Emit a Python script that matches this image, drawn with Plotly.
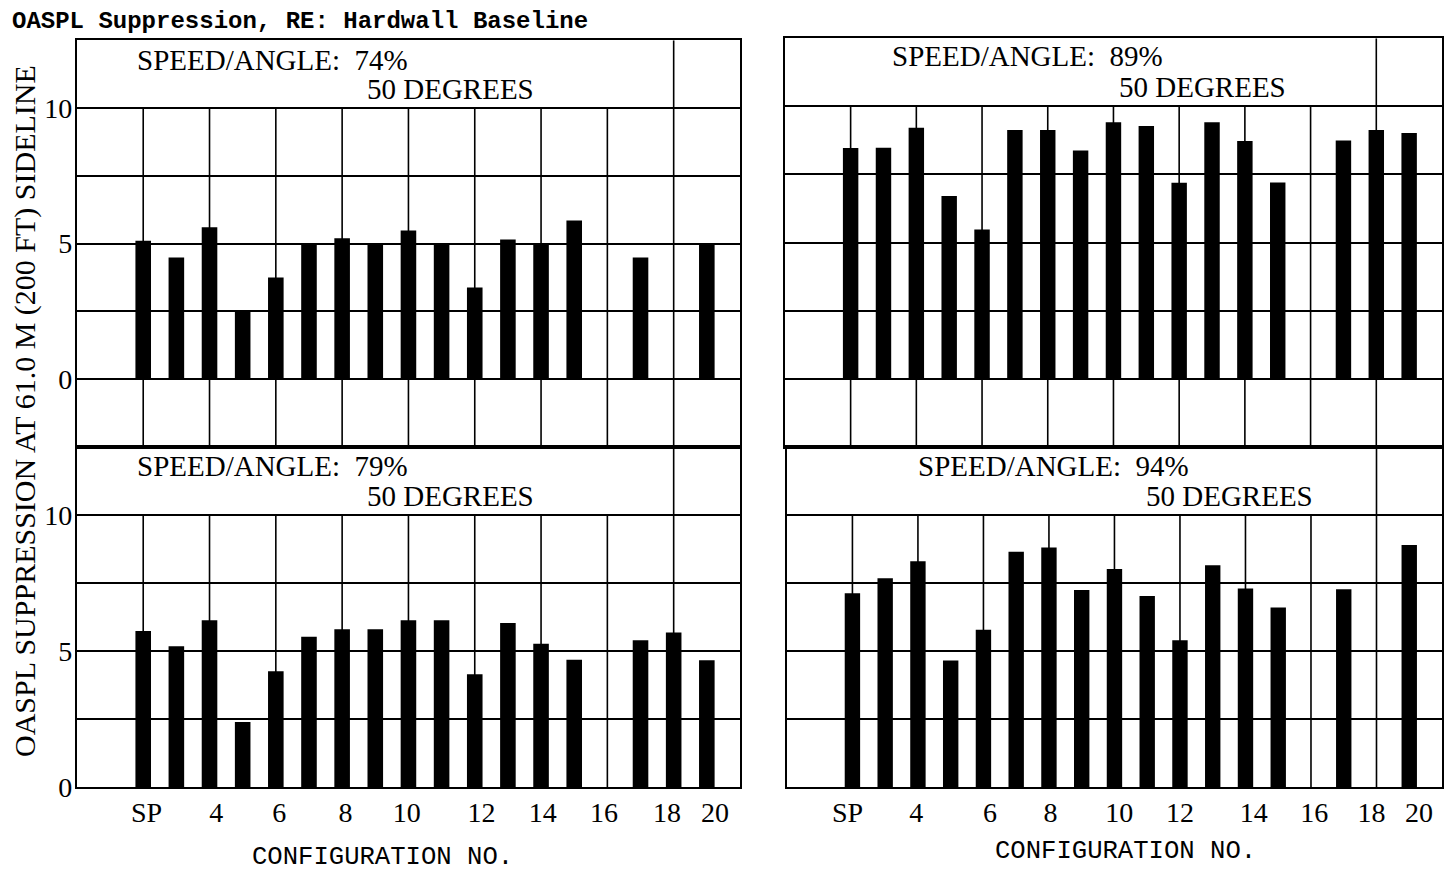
import plotly.graph_objects as go

# ---------------- data ----------------
configs = ["SP", "3", "4", "5", "6", "7", "8", "9", "10", "11", "12", "13",
           "14", "15", "16", "17", "18", "20"]
tick_labels = ["SP", "4", "6", "8", "10", "12", "14", "16", "18", "20"]

supp_74 = [5.1, 4.49, 5.6, 2.49, 3.75, 5.0, 5.2, 5.0, 5.48, 5.0, 3.38, 5.15,
           5.0, 5.85, None, 4.49, None, 5.0]
supp_89 = [8.47, 8.48, 9.21, 6.71, 5.48, 9.13, 9.13, 8.38, 9.41, 9.28, 7.19, 9.41,
           8.73, 7.2, None, 8.74, 9.13, 9.02]
supp_79 = [5.73, 5.17, 6.13, 2.39, 4.25, 5.52, 5.8, 5.8, 6.13, 6.13, 4.14, 6.03,
           5.26, 4.68, None, 5.39, 5.68, 4.66]
supp_94 = [7.12, 7.67, 8.3, 4.65, 5.78, 8.65, 8.8, 7.24, 8.01, 7.02, 5.39, 8.15,
           7.3, 6.6, None, 7.27, None, 8.9]

speed_74 = "SPEED/ANGLE:\u00a0\u00a074%"
speed_79 = "SPEED/ANGLE:\u00a0\u00a079%"
speed_89 = "SPEED/ANGLE:\u00a0\u00a089%"
speed_94 = "SPEED/ANGLE:\u00a0\u00a094%"
angle_text = "50 DEGREES"

header = "OASPL Suppression, RE: Hardwall Baseline"
y_title = "OASPL SUPPRESSION AT 61.0 M (200 FT) SIDELINE"
x_title = "CONFIGURATION NO."

# ---------------- layout helpers ----------------
OFF = 8
W = 1452 - 2 * OFF
H = 872
VS = 888 / 872  # vertical correction observed in the rendered page
SERIF = "Liberation Serif"
MONO = "Liberation Mono"

# where the (hand-lettered) tick labels sit, in slot units of the category axis
label_pos_left = [0.1, 2.2, 4.1, 6.1, 7.95, 10.2, 12.05, 13.9, 15.8, 17.25]
label_pos_right = [-0.15, 1.95, 4.2, 6.05, 8.15, 10.0, 12.25, 14.1, 15.85, 17.3]


def px_x(a):
    return (a - OFF) / W


def px_y(b):
    return 1 - (b * VS - OFF) / H


def xd(a, b):
    return [max(0, px_x(a)), min(1, px_x(b))]


def yd(top, bottom):
    return [max(0, px_y(bottom)), min(1, px_y(top))]


panels = [
    dict(vals=supp_74, speed=speed_74, n="", xpx=(77, 741), ypx=(40, 447),
         yr=[-2.5, 12.5], left=True, bottom=False, t1=(135, 60), t2=(365, 89)),
    dict(vals=supp_89, speed=speed_89, n="2", xpx=(786, 1446), ypx=(38, 447),
         yr=[-2.5, 12.5], left=False, bottom=False, t1=(891, 56), t2=(1119, 87)),
    dict(vals=supp_79, speed=speed_79, n="3", xpx=(77, 741), ypx=(447, 787),
         yr=[0, 12.5], left=True, bottom=True, t1=(135, 466), t2=(365, 496),
         lab="5", labpos=label_pos_left),
    dict(vals=supp_94, speed=speed_94, n="4", xpx=(788, 1446), ypx=(447, 787),
         yr=[0, 12.5], left=False, bottom=True, t1=(917, 466), t2=(1146, 496),
         lab="6", labpos=label_pos_right),
]

fig = go.Figure()
shapes = []
annotations = []

for p in panels:
    n = p["n"]
    xa = "x" + n
    ya = "y" + n
    fig.add_trace(go.Bar(
        x=configs, y=p["vals"], xaxis=xa, yaxis=ya,
        marker=dict(color="black", line=dict(width=0)),
        width=0.47, showlegend=False,
    ))
    yvals = [v for v in [-2.5, 0, 2.5, 5, 7.5, 10, 12.5] if p["yr"][0] <= v <= p["yr"][1]]
    ytext = [("%g" % v if v in (0, 5, 10) else "") for v in yvals]
    fig.layout["xaxis" + n] = dict(
        domain=xd(*p["xpx"]), anchor=ya, type="category",
        categoryorder="array", categoryarray=configs,
        range=[-2, 18], showgrid=False, zeroline=False,
        showline=True, mirror=True, linecolor="black", linewidth=2,
        showticklabels=False, ticks="",
    )
    if p["bottom"]:
        # overlay axis that carries the tick labels at their lettered positions
        lx = "x" + p["lab"]
        fig.add_trace(go.Scatter(x=[None], y=[None], xaxis=lx, yaxis=ya,
                                 mode="markers", showlegend=False,
                                 hoverinfo="skip"))
        fig.layout["xaxis" + p["lab"]] = dict(
            domain=xd(*p["xpx"]), anchor=ya, overlaying=xa, side="bottom",
            type="linear", range=[-2, 18], showgrid=False, zeroline=False,
            showline=False,
            tickmode="array", tickvals=p["labpos"], ticktext=tick_labels,
            ticks="", ticklabelstandoff=6,
            tickfont=dict(family=SERIF, size=28, color="black"),
        )
    fig.layout["yaxis" + n] = dict(
        domain=yd(*p["ypx"]), anchor=xa, range=p["yr"],
        tickmode="array", tickvals=yvals, ticktext=ytext,
        showgrid=True, gridcolor="black", gridwidth=2, zeroline=False,
        showline=True, mirror=True, linecolor="black", linewidth=2,
        showticklabels=p["left"], ticks="",
        ticklabelstandoff=-3,
        tickfont=dict(family=SERIF, size=28, color="black"),
    )
    # vertical grid lines every second configuration
    for slot in range(0, 17, 2):
        top = p["yr"][1] if slot == 16 else 10
        shapes.append(dict(type="line", xref=xa, yref=ya, layer="below",
                           x0=slot, x1=slot, y0=p["yr"][0], y1=top,
                           line=dict(color="black", width=1.6)))
    # band titles
    annotations.append(dict(text=p["speed"], xref="paper", yref="paper",
                            x=px_x(p["t1"][0]), y=px_y(p["t1"][1]),
                            xanchor="left", yanchor="middle", showarrow=False,
                            font=dict(family=SERIF, size=29, color="black")))
    annotations.append(dict(text=angle_text, xref="paper", yref="paper",
                            x=px_x(p["t2"][0]), y=px_y(p["t2"][1]),
                            xanchor="left", yanchor="middle", showarrow=False,
                            font=dict(family=SERIF, size=29, color="black")))

annotations.append(dict(text=header, xref="paper", yref="paper",
                        x=px_x(10), y=1, xanchor="left", yanchor="top",
                        yshift=2, showarrow=False,
                        font=dict(family=MONO, size=24, color="black", weight="bold")))
annotations.append(dict(text=y_title, xref="paper", yref="paper",
                        x=px_x(25), y=px_y(411), xanchor="center", yanchor="middle",
                        textangle=-90, showarrow=False,
                        font=dict(family=SERIF, size=30, color="black")))
annotations.append(dict(text=x_title, xref="paper", yref="paper",
                        x=px_x(383), y=px_y(858), xanchor="center", yanchor="middle",
                        showarrow=False,
                        font=dict(family=MONO, size=25.6, color="black")))
annotations.append(dict(text=x_title, xref="paper", yref="paper",
                        x=px_x(1127), y=px_y(852), xanchor="center", yanchor="middle",
                        showarrow=False,
                        font=dict(family=MONO, size=25.6, color="black")))

fig.update_layout(
    width=W, height=H,
    margin=dict(l=0, r=0, t=0, b=0),
    paper_bgcolor="white", plot_bgcolor="white",
    shapes=shapes, annotations=annotations,
)

fig.write_html("out.html")
